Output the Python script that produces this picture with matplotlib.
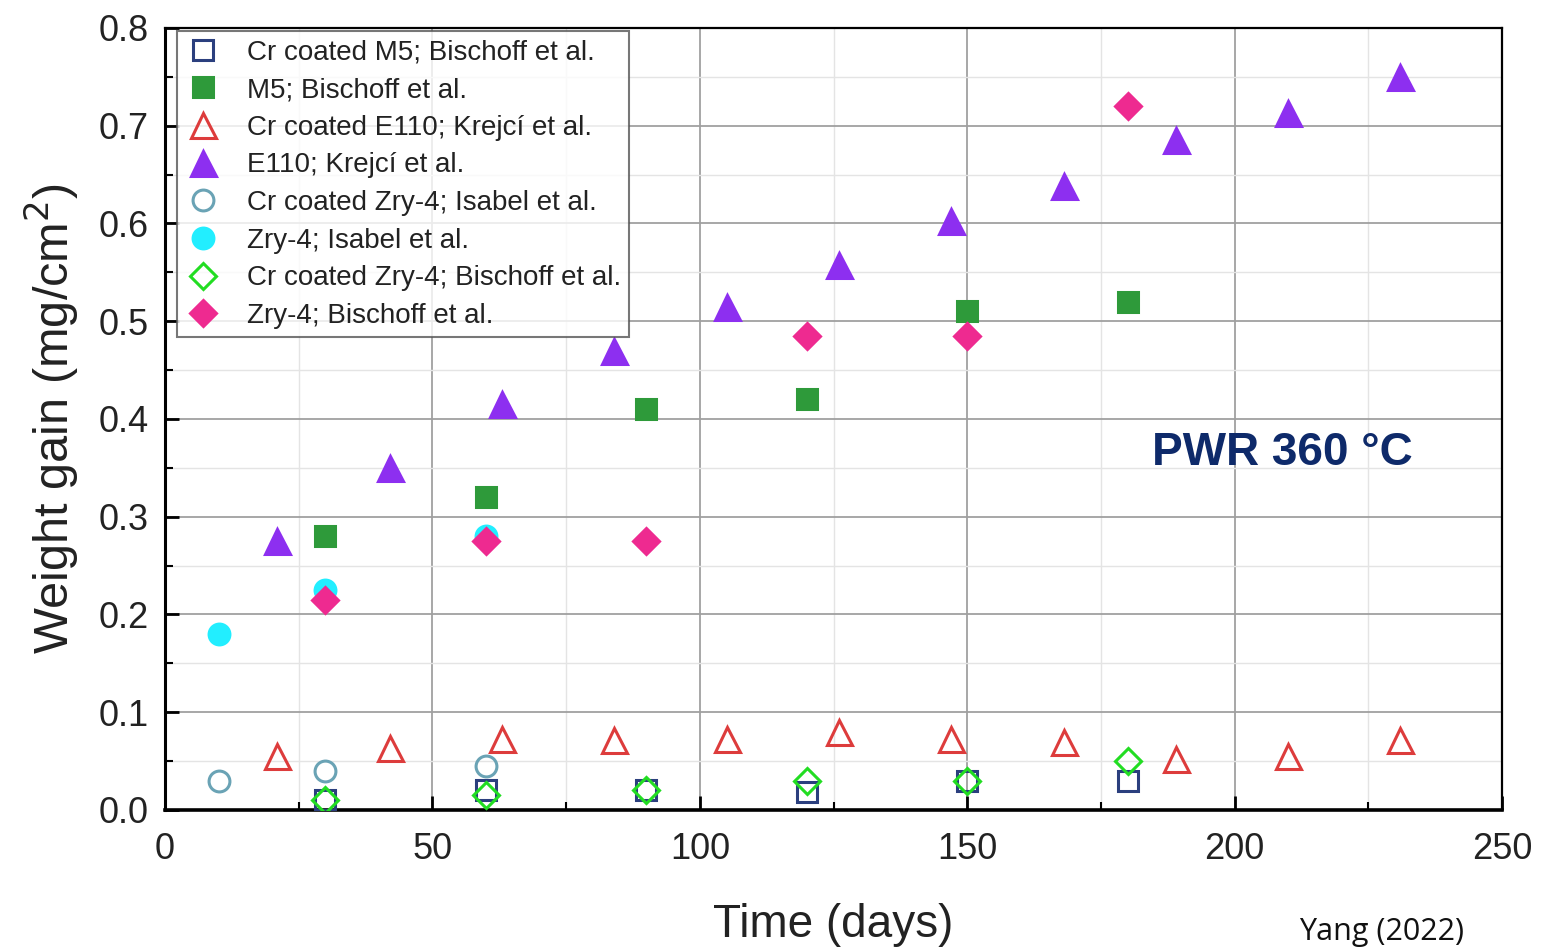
import matplotlib
matplotlib.use("Agg")
import matplotlib.pyplot as plt
from matplotlib.ticker import MultipleLocator

plt.rcParams["font.family"] = ["Liberation Sans", "DejaVu Sans"]

# days for the E110 series (Krejci et al.)
e110_days = [21, 42, 63, 84, 105, 126, 147, 168, 189, 210, 231]
e110 = [0.275, 0.35, 0.415, 0.47, 0.515, 0.558, 0.603, 0.638, 0.685, 0.713, 0.75]
cr_e110 = [0.055, 0.063, 0.073, 0.072, 0.073, 0.08, 0.073, 0.07, 0.052, 0.055, 0.072]

# Bischoff et al. series
bis_days = [30, 60, 90, 120, 150, 180]
m5 = [0.28, 0.32, 0.41, 0.42, 0.51, 0.52]
cr_m5 = [0.01, 0.02, 0.02, 0.018, 0.03, 0.03]
zry4_bis = [0.215, 0.275, 0.275, 0.485, 0.485, 0.72]
cr_zry4_bis = [0.01, 0.015, 0.02, 0.03, 0.03, 0.05]

# Isabel et al. series
isa_days = [10, 30, 60]
zry4_isa = [0.18, 0.225, 0.28]
cr_zry4_isa = [0.03, 0.04, 0.045]

fig = plt.figure(figsize=(15.57, 9.49), dpi=100)
ax = fig.add_axes([0.106, 0.1465, 0.8587, 0.824])

series = [
    (bis_days, cr_m5, "s", "none", "#2b3f7e", 14, "Cr coated M5; Bischoff et al."),
    (bis_days, m5, "s", "#2e9a3a", "#2e9a3a", 14, "M5; Bischoff et al."),
    (e110_days, cr_e110, "^", "none", "#dd3c3c", 18, "Cr coated E110; Krejcí et al."),
    (e110_days, e110, "^", "#8d2ff0", "#8d2ff0", 18, "E110; Krejcí et al."),
    (isa_days, cr_zry4_isa, "o", "none", "#6aa3b5", 15, "Cr coated Zry-4; Isabel et al."),
    (isa_days, zry4_isa, "o", "#22eeff", "#22eeff", 15, "Zry-4; Isabel et al."),
    (bis_days, cr_zry4_bis, "D", "none", "#22dd22", 13, "Cr coated Zry-4; Bischoff et al."),
    (bis_days, zry4_bis, "D", "#ee2a90", "#ee2a90", 13, "Zry-4; Bischoff et al."),
]
for x, y, mk, fc, ec, ms, lab in series:
    ax.plot(x, y, linestyle="none", marker=mk, markersize=ms,
            markerfacecolor=fc, markeredgecolor=ec, markeredgewidth=2.2,
            label=lab, zorder=3)

ax.set_xlim(0, 250)
ax.set_ylim(0, 0.8)
ax.xaxis.set_major_locator(MultipleLocator(50))
ax.xaxis.set_minor_locator(MultipleLocator(25))
ax.yaxis.set_major_locator(MultipleLocator(0.1))
ax.yaxis.set_minor_locator(MultipleLocator(0.05))
ax.yaxis.set_major_formatter(plt.FormatStrFormatter("%.1f"))

ax.grid(which="major", color="#a0a0a0", linewidth=1.3, zorder=0)
ax.grid(which="minor", color="#e4e4e4", linewidth=1.0, zorder=0)
ax.set_axisbelow(True)

ax.tick_params(which="major", direction="in", length=10, width=2,
               labelsize=26, labelcolor="#222222")
ax.tick_params(axis="x", which="major", pad=16)
ax.tick_params(axis="y", which="major", pad=12)
ax.tick_params(which="minor", direction="in", length=6, width=1.5)
for s in ax.spines.values():
    s.set_linewidth(1.6)
ax.spines["bottom"].set_linewidth(2.6)
ax.spines["left"].set_linewidth(2.2)

ax.set_xlabel("Time (days)", fontsize=33, color="#222222", labelpad=26)
ax.set_ylabel("Weight gain (mg/cm$^2$)", fontsize=35, color="#222222", labelpad=12)

leg = ax.legend(loc="upper left", bbox_to_anchor=(0.009, 0.996), fontsize=20,
                frameon=True, fancybox=False, edgecolor="#555555",
                handletextpad=0.9, labelspacing=0.42, borderpad=0.3,
                handlelength=1.3, borderaxespad=0)
leg.get_frame().set_linewidth(1.5)
for t in leg.get_texts():
    t.set_color("#222222")

fig.text(1282 / 1557, 1 - 453 / 949, "PWR 360 °C", fontsize=33,
         fontweight="bold", color="#0e2a6a", ha="center", va="center")
fig.text(1382 / 1557, 2 / 949, "Yang (2022)", fontsize=22,
         color="#111111", ha="center", va="bottom", family=["Open Sans", "DejaVu Sans"])

fig.savefig("out.png", dpi=100)
